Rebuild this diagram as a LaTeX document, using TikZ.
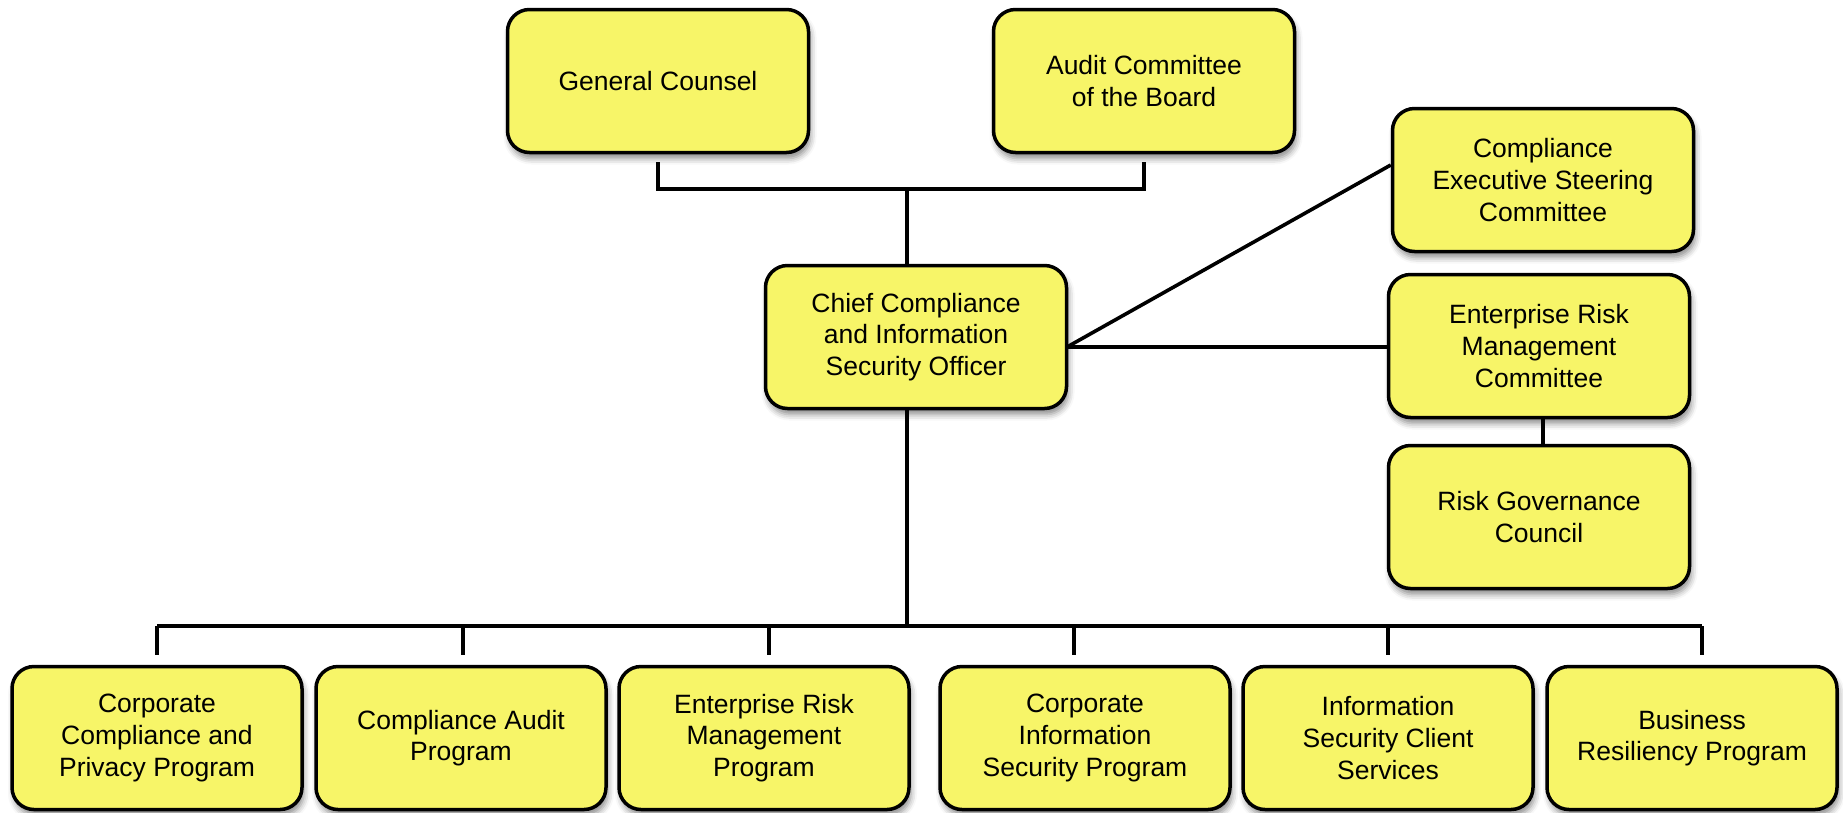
\documentclass[tikz,border=0pt]{standalone}
\usepackage{fontspec}
\setmainfont{Liberation Sans}
\usetikzlibrary{shadows.blur}
\definecolor{boxfill}{RGB}{247,245,104}
\tikzset{
  orgbox/.style={draw=black, line width=3.5pt, fill=boxfill, rounded corners=22pt,
    minimum width=301pt, minimum height=143pt, align=center, inner sep=0pt,
    font=\fontsize{26.5}{31.7}\selectfont,
    blur shadow={shadow xshift=2pt, shadow yshift=-6pt, shadow blur radius=6pt, shadow opacity=45}},
  lowbox/.style={orgbox, minimum width=290pt},
  conn/.style={draw=black, line width=3.6pt}
}
\begin{document}
\begin{tikzpicture}[x=1pt, y=-1pt]
\useasboundingbox (0,0) rectangle (1843,812);

% upper level
\node[orgbox] (gc)  at (658,81)  {General Counsel};
\node[orgbox] (acb) at (1144,81) {Audit Committee\\of the Board};
\node[orgbox] (chief) at (916,337) {Chief Compliance\\and Information\\Security Officer};

% committees on the right
\node[orgbox] (cesc) at (1543,180) {Compliance\\Executive Steering\\Committee};
\node[orgbox] (ermc) at (1539,346) {Enterprise Risk\\Management\\Committee};
\node[orgbox] (rgc)  at (1539,517) {Risk Governance\\Council};

% programs
\node[lowbox] (p1) at (157,738)  {Corporate\\Compliance and\\Privacy Program};
\node[lowbox] (p2) at (461,738)  {Compliance Audit\\Program};
\node[lowbox] (p3) at (764,738)  {Enterprise Risk\\Management\\Program};
\node[lowbox] (p4) at (1085,738) {Corporate\\Information\\Security Program};
\node[lowbox] (p5) at (1388,738) {Information\\Security Client\\Services};
\node[lowbox] (p6) at (1692,738) {Business\\Resiliency Program};

% reporting lines at the top
\coordinate (tj) at (907,189);
\draw[conn] ([yshift=-8pt]gc.south) |- (tj) -| ([yshift=-8pt]acb.south);
\draw[conn] (tj) -- (tj |- chief.north);

% lines to the committees
\coordinate (ce) at (1067,347);
\draw[conn] (ce) -- ([yshift=15pt]cesc.west);
\draw[conn] (ce) -- (ermc.west |- ce);
\draw[conn] ([xshift=4pt]ermc.south) -- ([xshift=4pt]rgc.north);

% bus to the programs
\coordinate (bus) at (907,626);
\draw[conn] (bus |- chief.south) -- (bus);
\draw[conn] (p1.north |- bus) -- ([xshift=10pt]p6.north |- bus);
\foreach \p/\dx in {p1/0,p2/2,p3/5,p4/-11,p5/0,p6/10}
  \draw[conn] ([xshift=\dx pt]\p.north |- bus) -- ([xshift=\dx pt, yshift=10pt]\p.north);
\end{tikzpicture}
\end{document}
